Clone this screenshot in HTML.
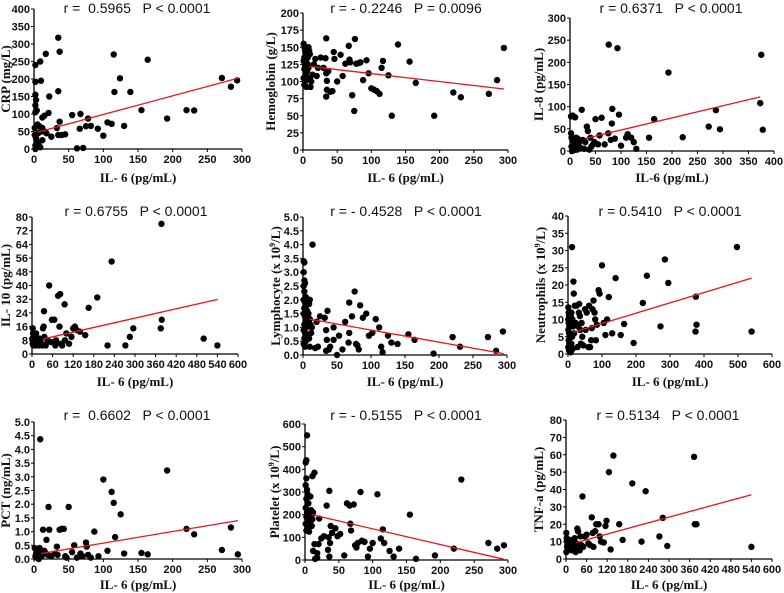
<!DOCTYPE html>
<html><head><meta charset="utf-8">
<style>
html,body{margin:0;padding:0;background:#fff;}
svg{display:block;}
.tick{font-family:"Liberation Sans",sans-serif;font-weight:bold;font-size:11px;fill:#111;}
.ttl{font-family:"Liberation Sans",sans-serif;font-size:14px;fill:#111;white-space:pre;}
.axt{font-family:"Liberation Serif",serif;font-weight:bold;font-size:13px;fill:#111;}
</style></head>
<body>
<svg id="fig" width="784" height="593" viewBox="0 0 784 593"></svg>
<script>
// ---- data ----
const crpX=[2,2,2,3,2,2,4,9,10,17,22,21,12,15,35,37,35,37,33,35,40,45,25,10,12,5,8,6,3,4,7,9,2,1,1,2,12,15,18,55,67,66,62,71,75,78,82,92,100,106,112,115,116,124,130,139,155,164,192,220,231,271,284,293];
const crpY=[240,192,155,140,125,105,110,250,195,272,150,103,90,95,318,278,165,78,60,40,40,42,35,50,60,70,65,45,30,20,10,5,0,60,40,10,25,50,45,97,100,58,2,3,65,87,66,58,38,76,72,270,163,202,66,163,111,255,87,111,110,203,178,196];
const crpLine=[5,48,294,202];
const hgbX=[1,2,3,4,2,1,5,3,2,6,4,1,3,2,5,7,8,9,10,8,10,12,7,11,14,16,18,20,22,26,30,33,34,34,35,35,34,37,40,43,45,46,50,55,58,62,67,68,69,72,75,76,78,82,84,88,93,96,100,104,108,112,115,117,125,130,139,156,165,192,220,231,272,284,294];
const hgbY=[155,150,145,140,135,130,128,122,118,115,110,105,100,95,92,125,150,145,140,120,105,100,135,92,110,125,133,108,120,135,120,134,163,112,101,88,78,115,85,86,143,133,100,139,108,126,152,132,128,80,57,162,126,127,128,102,131,112,90,88,86,82,120,130,109,50,154,129,98,50,84,77,82,102,149];
const hgbLine=[10,122,294,89];
const il8X=[2,5,10,23,3,5,8,10,3,6,12,15,18,20,25,30,33,35,40,42,45,48,50,55,58,62,68,75,76,80,82,83,88,93,96,100,110,113,120,125,130,155,165,193,221,272,286,294,373,375,378,2,4,8,14,28,38];
const il8Y=[78,80,76,93,30,25,20,15,10,5,30,28,20,8,25,20,55,45,30,10,15,20,72,15,35,75,15,40,240,25,62,95,28,232,82,12,30,38,30,20,5,30,72,177,31,55,92,49,108,217,48,40,0,2,3,5,3];
const il8Line=[29,28,373,122];
const il10X=[2,3,5,8,2,4,6,10,12,15,18,20,25,28,32,34,35,36,40,45,50,55,58,65,68,70,76,80,82,85,88,95,96,100,108,115,120,125,130,140,155,165,190,220,232,272,285,295,375,377,378,500,540,1,3,7,12,22,30];
const il10Y=[15,12,10,8,6,5,7,5,9,6,8,5,7,6,15,16,25,10,5,8,40,7,20,20,5,8,34,16,35,6,5,29,8,12,6,10,15,16,14,13,11,27,33,5,54,5,10,15,15,76,20,9,5,9,7,5,12,9,5];
const il10Line=[33,8.8,541,31.9];
const lymX=[1,2,1,2,3,1,2,4,1,3,5,2,6,1,3,4,7,2,5,1,3,6,2,4,1,3,8,9,10,8,10,11,12,9,10,14,13,18,20,22,25,32,34,35,36,34,38,40,45,45,50,53,58,62,67,68,68,72,76,78,80,82,84,88,93,97,102,107,112,115,117,125,130,139,155,164,192,220,231,272,284,294];
const lymY=[3.4,3.35,3.0,2.7,2.6,2.5,2.3,2.1,2.0,1.9,1.8,1.7,1.6,1.5,1.4,1.3,1.2,1.1,1.0,0.9,0.8,0.7,0.6,0.5,0.4,0.3,2.0,1.85,2.0,1.5,1.3,1.1,0.8,0.6,0.3,4.0,1.0,0.25,1.2,0.3,1.4,1.35,0.9,0.55,1.6,0.15,0.2,0.3,1.0,0.55,0.0,0.7,0.2,1.2,0.45,0.8,1.9,1.4,2.3,0.4,0.35,0.2,1.8,1.35,1.5,0.7,0.8,1.3,1.0,0.3,0.1,0.7,0.45,0.4,0.75,0.55,0.05,0.65,0.3,0.65,0.15,0.85];
const lymLine=[10,1.3,295,0.05];
const neuX=[1,2,3,1,2,4,1,3,5,2,4,1,3,6,8,10,12,13,15,16,17,18,20,22,25,28,30,32,33,35,36,38,40,42,45,50,52,55,60,62,65,68,70,72,75,78,80,82,85,90,93,100,105,110,115,120,130,140,155,165,193,220,232,272,285,295,375,376,378,497,540,8,10,12,14];
const neuY=[13.5,12,11,10,9,8,7,6,5,4,3,2,1,9,11,12,31,10,8,21,17.5,6,14,9,14,2,8,12,14.5,11,7,3,9,5,2.5,13,7,12,2,14,2,4,7.5,13,15.5,12,10,4,8.5,18.5,17.5,25.7,9,5.5,10,16.5,6,22,5.5,8.7,3.2,14.8,22.7,8,27.4,20.6,6.5,16.6,8.5,31,6.5,0.5,3,5,1.5];
const neuLine=[15,6.3,540,22];
const pctX=[1,2,3,4,5,6,7,8,9,10,11,12,13,15,17,18,20,21,22,25,30,33,34,37,40,43,45,47,50,55,58,62,67,70,75,76,78,82,87,93,100,106,112,115,117,125,130,155,164,192,220,231,271,284,294];
const pctY=[0.4,0.1,0.2,0.05,0.3,0.15,0.0,0.4,4.37,0.2,0.1,0.25,1.07,0.3,0.2,0.7,0.15,1.9,1.07,0.1,0.2,0.45,0.15,1.07,1.1,1.1,0.1,0.05,1.9,0.25,0.5,0.05,0.2,0.1,0.6,0.45,0.15,0.05,1.0,0.1,2.9,0.3,2.45,2.05,0.8,1.63,0.2,0.22,0.17,3.23,1.1,0.9,0.33,1.15,0.17];
const pctLine=[10,0.2,294,1.4];
const pltX=[2,1,3,2,1,3,4,2,5,1,3,6,2,4,7,1,3,5,2,6,8,9,10,11,12,8,10,11,14,12,14,15,18,18,20,21,24,28,32,34,35,36,36,37,38,40,45,48,52,58,62,66,67,68,72,74,76,78,82,84,88,93,96,100,107,112,115,117,125,131,139,155,164,192,220,231,271,284,294];
const pltY=[440,430,550,360,330,310,290,270,250,230,210,200,190,180,170,160,150,140,130,125,280,220,200,180,210,160,150,370,385,40,70,5,30,10,70,183,95,105,240,45,100,305,15,75,150,120,140,105,115,20,250,240,160,130,245,65,55,75,300,85,80,15,50,75,290,95,135,75,40,15,50,200,5,20,50,355,75,50,65];
const pltLine=[10,200,294,3];
const tnfX=[1,2,3,4,5,6,1,3,8,10,12,15,18,20,22,25,28,30,33,35,38,40,42,45,48,50,55,60,65,70,75,78,80,85,88,95,98,102,110,115,118,125,130,138,155,165,193,220,232,272,282,295,373,375,380,540];
const tnfY=[15,12,10,8,6,5,4,7,9,11,6,8,5,10,7,12,4,9,17.5,16,6,5,13,8,36,7,13,14,9,8,24,15,7,16,20,20,13,10,9.5,19,22,50,5.5,59.5,20,11,43.5,10,39,13,23.7,7.5,58.8,20,20,7];
const tnfLine=[30,9.5,540,37];

const ticks300=[0,50,100,150,200,250,300];
const ticks400=[0,50,100,150,200,250,300,350,400];
const ticks600a=[0,60,120,180,240,300,360,420,480,540,600];
const ticks600b=[0,100,200,300,400,500,600];

// ---- rendering ----
const NS="http://www.w3.org/2000/svg";
const fig=document.getElementById('fig');
function mk(tag,attrs,parent){const e=document.createElementNS(NS,tag);for(const k in attrs)e.setAttribute(k,attrs[k]);parent.appendChild(e);return e;}

function panel(c){
  const g=mk('g',{},fig);
  
  
  const sx=v=>c.px0+(v-c.xmin)/(c.xmax-c.xmin)*(c.px1-c.px0);
  const sy=v=>c.py0-(v-c.ymin)/(c.ymax-c.ymin)*(c.py0-c.py1);
  const ya=mk('line',{x1:c.px0,y1:c.py1,x2:c.px0,y2:c.py0,stroke:'#000','stroke-width':1.3},g);
  
  
  const xa=mk('line',{x1:c.px0,y1:c.py0,x2:c.px1,y2:c.py0,stroke:'#000','stroke-width':1.3},g);
  
  
  c.yticks.forEach((v,i)=>{
    const y=sy(v);
    mk('line',{x1:c.px0-3,y1:y,x2:c.px0,y2:y,stroke:'#000','stroke-width':1},g);
    const t=mk('text',{x:c.px0-4,y:y+4,'text-anchor':'end',class:'tick'},g);
    t.textContent=c.ylabels?c.ylabels[i]:v;
    
    
  });
  c.xticks.forEach(v=>{
    const x=sx(v);
    mk('line',{x1:x,y1:c.py0,x2:x,y2:c.py0+3,stroke:'#000','stroke-width':1},g);
    const t=mk('text',{x:x,y:c.py0+14,'text-anchor':'middle',class:'tick'},g);
    t.textContent=v;
    
    
  });
  c.xs.forEach((xv,i)=>{
    const p=mk('circle',{cx:sx(xv),cy:sy(c.ys[i]),r:3.2,fill:'#000'},g);
    
    
  });
  const L=c.line;
  const rl=mk('line',{x1:sx(L[0]),y1:sy(L[1]),x2:sx(L[2]),y2:sy(L[3]),stroke:'#e8141a','stroke-width':1.3},g);
  
  
  const tt=mk('text',{x:c.tx,y:c.ty,'text-anchor':'middle',class:'ttl'},g);
  tt.textContent=c.title;
  
  
  const xt=mk('text',{x:(c.px0+c.px1)/2,y:c.xty,'text-anchor':'middle',class:'axt'},g);
  xt.textContent=c.xtitle;
  
  
  const cy=(c.py0+c.py1)/2;
  const yt=mk('text',{x:0,y:0,'text-anchor':'middle',class:'axt',transform:`translate(${c.ytx},${cy}) rotate(-90)`},g);
  
  
  if(c.ysup){
    const a=mk('tspan',{},yt);a.textContent=c.ytitle[0];
    const s=mk('tspan',{dy:-5,'font-size':'8px'},yt);s.textContent='9';
    const b=mk('tspan',{dy:5},yt);b.textContent=c.ytitle[1];
  } else yt.textContent=c.ytitle;
}

const dec5=['0.0','0.5','1.0','1.5','2.0','2.5','3.0','3.5','4.0','4.5','5.0'];
const t5=[0,0.5,1,1.5,2,2.5,3,3.5,4,4.5,5];

panel({name:'crp',xs:crpX,ys:crpY,line:crpLine,px0:34,px1:242,py0:149,py1:9,xmin:0,xmax:300,ymin:0,ymax:400,
  xticks:ticks300,yticks:[0,50,100,150,200,250,300,350,400],title:'r =  0.5965   P < 0.0001',tx:137,ty:13,
  xtitle:'IL- 6 (pg/mL)',xty:182,ytitle:'CRP (mg/L)',ytx:10});
panel({name:'hemoglobin',xs:hgbX,ys:hgbY,line:hgbLine,px0:303,px1:508,py0:150,py1:13,xmin:0,xmax:300,ymin:0,ymax:200,
  xticks:ticks300,yticks:[0,25,50,75,100,125,150,175,200],title:'r = - 0.2246   P = 0.0096',tx:406,ty:13,
  xtitle:'IL- 6 (pg/mL)',xty:182,ytitle:'Hemoglobin (g/L)',ytx:275});
panel({name:'il8',xs:il8X,ys:il8Y,line:il8Line,px0:570,px1:774,py0:151,py1:18,xmin:0,xmax:400,ymin:0,ymax:300,
  xticks:ticks400,yticks:[0,50,100,150,200,250,300],title:'r = 0.6371   P < 0.0001',tx:671,ty:13,
  xtitle:'IL-6 (pg/mL)',xty:182,ytitle:'IL-8 (pg/mL)',ytx:543});

panel({name:'il10',xs:il10X,ys:il10Y,line:il10Line,px0:32,px1:238,py0:354,py1:217,xmin:0,xmax:600,ymin:0,ymax:80,
  xticks:ticks600a,yticks:[0,8,16,24,32,40,48,56,64,72,80],title:'r = 0.6755   P < 0.0001',tx:136,ty:216,
  xtitle:'IL- 6 (pg/mL)',xty:386,ytitle:'IL- 10 (pg/mL)',ytx:10});
panel({name:'lymphocyte',xs:lymX,ys:lymY,line:lymLine,px0:303,px1:507,py0:355,py1:217,xmin:0,xmax:300,ymin:0,ymax:5,
  xticks:ticks300,yticks:t5,ylabels:dec5,title:'r = - 0.4528   P < 0.0001',tx:406,ty:216,
  xtitle:'IL- 6 (pg/mL)',xty:386,ytitle:['Lymphocyte (x 10','/L)'],ysup:true,ytx:280});
panel({name:'neutrophils',xs:neuX,ys:neuY,line:neuLine,px0:568,px1:772,py0:354,py1:216,xmin:0,xmax:600,ymin:0,ymax:40,
  xticks:ticks600b,yticks:[0,5,10,15,20,25,30,35,40],title:'r = 0.5410   P < 0.0001',tx:670,ty:216,
  xtitle:'IL- 6 (pg/mL)',xty:386,ytitle:['Neutrophils (x 10','/L)'],ysup:true,ytx:545});

panel({name:'pct',xs:pctX,ys:pctY,line:pctLine,px0:34,px1:242,py0:559,py1:422,xmin:0,xmax:300,ymin:0,ymax:5,
  xticks:ticks300,yticks:t5,ylabels:dec5,title:'r =  0.6602   P < 0.0001',tx:137,ty:420,
  xtitle:'IL- 6 (pg/mL)',xty:589,ytitle:'PCT (ng/mL)',ytx:10});
panel({name:'platelet',xs:pltX,ys:pltY,line:pltLine,px0:305,px1:508,py0:560,py1:424,xmin:0,xmax:300,ymin:0,ymax:600,
  xticks:ticks300,yticks:[0,100,200,300,400,500,600],title:'r = - 0.5155   P < 0.0001',tx:406,ty:420,
  xtitle:'IL- 6 (pg/mL)',xty:589,ytitle:['Platelet (x 10','/L)'],ysup:true,ytx:279});
panel({name:'tnf',xs:tnfX,ys:tnfY,line:tnfLine,px0:566,px1:772,py0:559,py1:420,xmin:0,xmax:600,ymin:0,ymax:80,
  xticks:ticks600a,yticks:[0,10,20,30,40,50,60,70,80],title:'r = 0.5134   P < 0.0001',tx:668,ty:420,
  xtitle:'IL- 6 (pg/mL)',xty:589,ytitle:'TNF-a (pg/mL)',ytx:543});
</script>
</body></html>
